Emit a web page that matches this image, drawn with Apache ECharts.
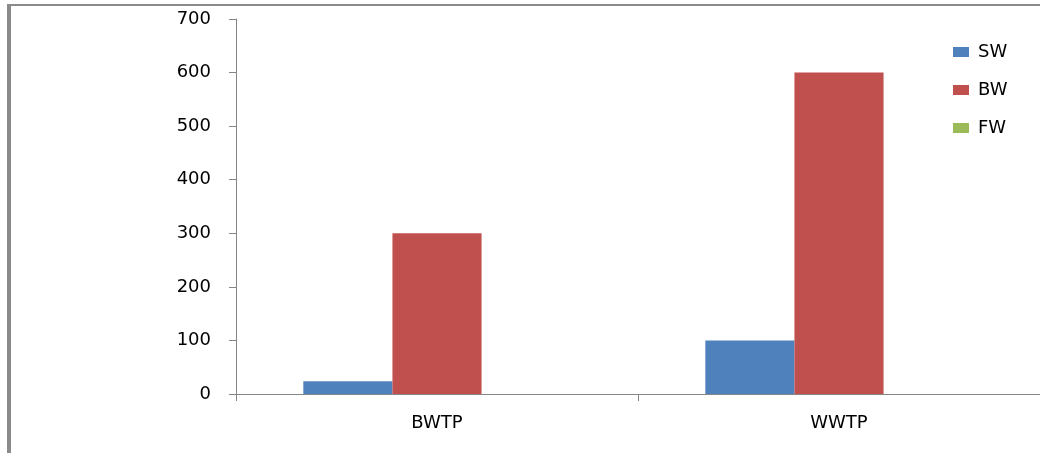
<!DOCTYPE html>
<html>
<head>
<meta charset="utf-8">
<script src="https://cdn.jsdelivr.net/npm/echarts@6/dist/echarts.min.js"></script>
<style>
html,body{margin:0;padding:0;background:#fff;}
#chart{width:1040px;height:453px;}
</style>
</head>
<body>
<div id="chart"></div>
<script>
const categories = ['BWTP', 'WWTP'];
const seriesNames = ['SW', 'BW', 'FW'];
const swValues = [24, 100];
const bwValues = [300, 600];
const fwValues = [0, 0];
const yTicks = { min: 0, max: 700, interval: 100 };

const colors = ['#4F81BD', '#C0504D', '#9BBB59'];
const font = 'DejaVu Sans';

const chart = echarts.init(document.getElementById('chart'));
const mk = (name, data, i) => ({
  name, type: 'bar', data, barGap: '0%', barCategoryGap: '33.5%',
  itemStyle: { color: colors[i] }, animation: false
});
chart.setOption({
  animation: false,
  grid: { left: 236, width: 812, top: 19, bottom: 59, containLabel: false },
  legend: {
    orient: 'vertical', left: 953, top: 43, padding: 0, itemWidth: 16, itemHeight: 10, itemGap: 20,
    data: seriesNames.map(n => ({ name: n, icon: 'rect' })),
    textStyle: { fontFamily: font, fontSize: 18, color: '#000', padding: [0, 0, 0, 4] }
  },
  xAxis: {
    type: 'category', data: categories,
    axisLine: { lineStyle: { color: '#868686', width: 1 } },
    axisTick: { show: true, length: 7, interval: 0, lineStyle: { color: '#868686' } },
    axisLabel: { fontFamily: font, fontSize: 18, color: '#000', margin: 20 },
    splitLine: { show: false }
  },
  yAxis: {
    type: 'value', min: yTicks.min, max: yTicks.max, interval: yTicks.interval,
    axisLine: { show: true, lineStyle: { color: '#868686', width: 1 } },
    axisTick: { show: true, length: 7, lineStyle: { color: '#868686' } },
    axisLabel: { fontFamily: font, fontSize: 18, color: '#000', margin: 25 },
    splitLine: { show: false }
  },
  graphic: [
    { type: 'rect', shape: { x: 7, y: 4, width: 1040, height: 2 }, style: { fill: '#8a8a8a' } },
    { type: 'rect', shape: { x: 7, y: 4, width: 4, height: 460 }, style: { fill: '#8a8a8a' } }
  ],
  series: [mk(seriesNames[0], swValues, 0), mk(seriesNames[1], bwValues, 1), mk(seriesNames[2], fwValues, 2)]
});
</script>
</body>
</html>
